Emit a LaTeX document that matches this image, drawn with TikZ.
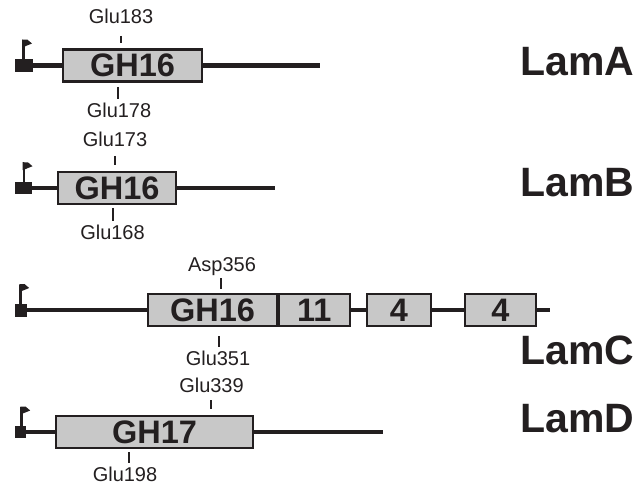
\documentclass[tikz,border=0pt]{standalone}
\usepackage{fontspec}
\setmainfont{Liberation Sans}
\definecolor{ink}{HTML}{231F20}
\definecolor{boxgray}{RGB}{200,200,200}
\begin{document}
\begin{tikzpicture}[x=1pt,y=-1pt,
  gene/.style={draw=ink, line width=4.6pt},
  dombox/.style={draw=ink, fill=boxgray, line width=2.4pt, inner sep=0pt,
    minimum height=32pt, text=ink, font=\bfseries\fontsize{32.5}{32.5}\selectfont},
  tss/.style={fill=ink, inner sep=0pt},
  flagpole/.style={draw=ink, line width=2.6pt},
  resitick/.style={draw=ink, line width=1.5pt},
  resname/.style={text=ink, inner sep=0pt, anchor=base, font=\fontsize{20}{20}\selectfont},
  protname/.style={text=ink, inner sep=0pt, anchor=base west, font=\bfseries\fontsize{41}{41}\selectfont},
  flag/.pic={
    \draw[flagpole] (0,0) -- (0,-19);
    \fill[ink] (-1.3,-19.5) -- (4,-19.3) -- (8.5,-15.5) -- (-1.3,-11.5) -- cycle;
  }]

\useasboundingbox (0,0) rectangle (639,486);

% ---------- LamA ----------
\node[tss, minimum width=18pt, minimum height=13pt] (sA) at (24,65.5) {};
\pic at (23.5,59) {flag};
\coordinate (eA) at (320,65.5);
\draw[gene] (sA.east) -- (eA);
\node[dombox, minimum width=139pt] (dA) at (132.5,65.5) {GH16};
\draw[resitick] (121,36) -- (121,43);
\node[resname] (rA1) at (121,24) {Glu183};
\draw[resitick] (118,87) -- (118,99);
\node[resname] (rA2) at (119,118) {Glu178};
\node[protname] (nA) at (520,76) {LamA};

% ---------- LamB ----------
\node[tss, minimum width=17pt, minimum height=12.5pt] (sB) at (23.5,188) {};
\pic at (24,181.7) {flag};
\coordinate (eB) at (275,188);
\draw[gene] (sB.east) -- (eB);
\node[dombox, minimum width=118pt] (dB) at (117,188) {GH16};
\draw[resitick] (115,156) -- (115,165);
\node[resname] (rB1) at (115,147) {Glu173};
\draw[resitick] (113,208) -- (113,221);
\node[resname] (rB2) at (112.5,240) {Glu168};
\node[protname] (nB) at (520,197) {LamB};

% ---------- LamC ----------
\node[tss, minimum width=11.5pt, minimum height=13pt] (sC) at (21,310) {};
\pic at (20.7,303.5) {flag};
\coordinate (eC) at (550,310);
\draw[gene] (sC.east) -- (eC);
\node[dombox, minimum width=129pt] (dC1) at (212.5,310) {GH16};
\node[dombox, minimum width=71.5pt] (dC2) at (314.25,310) {11};
\node[dombox, minimum width=64pt] (dC3) at (399,310) {4};
\node[dombox, minimum width=71pt] (dC4) at (500.5,310) {4};
\draw[resitick] (221,278) -- (221,289);
\node[resname] (rC1) at (222,271) {Asp356};
\draw[resitick] (219,336) -- (219,347);
\node[resname] (rC2) at (218,365) {Glu351};
\node[protname] (nC) at (520,364) {LamC};

% ---------- LamD ----------
\node[tss, minimum width=11pt, minimum height=12pt] (sD) at (20.5,432) {};
\pic at (21.7,426) {flag};
\coordinate (eD) at (383,432);
\draw[gene] (sD.east) -- (eD);
\node[dombox, minimum width=197pt] (dD) at (154.5,432) {GH17};
\draw[resitick] (211,400) -- (211,409);
\node[resname] (rD1) at (211.5,392) {Glu339};
\draw[resitick] (129,452) -- (129,463);
\node[resname] (rD2) at (125,481.5) {Glu198};
\node[protname] (nD) at (520,432) {LamD};

\end{tikzpicture}
\end{document}
